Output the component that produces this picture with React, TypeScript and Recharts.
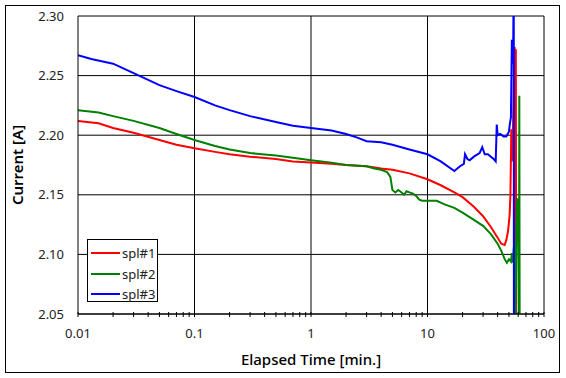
import { LineChart, Line, XAxis, YAxis, CartesianGrid, ReferenceLine, Legend } from 'recharts';

// spl#1
const t1 = [0.01, 0.015, 0.02, 0.03, 0.05, 0.07, 0.1, 0.15, 0.2, 0.3, 0.5, 0.7, 1, 1.5, 2, 3, 4, 5, 7, 10, 13, 17, 20, 25, 30, 35, 40, 43, 46, 47.5, 49.2, 50.7, 51.5, 52.4, 53, 54, 56, 56.5, 57.3, 57.8];
const v1 = [2.212, 2.21, 2.206, 2.202, 2.196, 2.192, 2.189, 2.186, 2.184, 2.182, 2.18, 2.178, 2.177, 2.176, 2.175, 2.174, 2.172, 2.171, 2.168, 2.163, 2.158, 2.152, 2.148, 2.14, 2.132, 2.123, 2.114, 2.109, 2.108, 2.112, 2.12, 2.133, 2.15, 2.205, 2.178, 2.2, 2.274, 2.0, 2.272, 2.0];

// spl#2
const t2 = [0.01, 0.015, 0.02, 0.03, 0.05, 0.07, 0.1, 0.15, 0.2, 0.3, 0.5, 0.7, 1, 1.5, 2, 3, 3.5, 4, 4.5, 4.8, 5, 5.3, 5.6, 6, 6.3, 6.6, 7, 7.5, 8, 8.5, 9, 10, 12, 14, 17, 20, 25, 30, 35, 40, 43, 46, 48, 50, 52, 53, 54, 55, 56, 57, 58, 59, 60, 61, 61.4, 61.8];
const v2 = [2.221, 2.219, 2.216, 2.212, 2.206, 2.201, 2.196, 2.191, 2.188, 2.185, 2.183, 2.181, 2.179, 2.177, 2.175, 2.174, 2.172, 2.171, 2.169, 2.165, 2.154, 2.152, 2.154, 2.152, 2.15, 2.153, 2.152, 2.151, 2.149, 2.146, 2.145, 2.145, 2.145, 2.142, 2.139, 2.135, 2.129, 2.124, 2.117, 2.109, 2.103, 2.096, 2.093, 2.096, 2.094, 2.101, 2.093, 2.105, 2.11, 2.04, 2.125, 2.147, 2.128, 2.04, 2.233, 2.04];

// spl#3
const t3 = [0.01, 0.013, 0.02, 0.03, 0.05, 0.07, 0.1, 0.15, 0.2, 0.3, 0.5, 0.7, 1, 1.5, 2, 2.5, 3, 4, 5, 7, 10, 13, 17, 19, 20.5, 21, 22, 23, 25, 28, 29.5, 31, 33, 35, 37, 38.5, 39.3, 40, 42, 45, 47.5, 50, 51, 52, 53, 54, 54.5, 55, 55.2];
const v3 = [2.267, 2.264, 2.26, 2.252, 2.242, 2.237, 2.232, 2.225, 2.221, 2.216, 2.211, 2.208, 2.206, 2.204, 2.201, 2.198, 2.195, 2.194, 2.192, 2.188, 2.184, 2.178, 2.17, 2.174, 2.176, 2.184, 2.18, 2.179, 2.182, 2.185, 2.19, 2.184, 2.184, 2.182, 2.18, 2.178, 2.209, 2.2, 2.201, 2.199, 2.199, 2.203, 2.21, 2.215, 2.28, 2.26, 2.283, 2.35, 2.0];

const xTicks = [
  0.01, 0.02, 0.03, 0.04, 0.05, 0.06, 0.07, 0.08, 0.09,
  0.1, 0.2, 0.3, 0.4, 0.5, 0.6, 0.7, 0.8, 0.9,
  1, 2, 3, 4, 5, 6, 7, 8, 9,
  10, 20, 30, 40, 50, 60, 70, 80, 90, 100,
];
const decades = [0.01, 0.1, 1, 10, 100];
const yTicks = [2.05, 2.1, 2.15, 2.2, 2.25, 2.3];

const series = [
  { name: 'spl#1', color: '#ff0000', data: t1.map((t, i) => ({ t, v: v1[i] })) },
  { name: 'spl#2', color: '#008000', data: t2.map((t, i) => ({ t, v: v2[i] })) },
  { name: 'spl#3', color: '#0000ff', data: t3.map((t, i) => ({ t, v: v3[i] })) },
];

const FONT = '"Noto Sans", sans-serif';

function XTick(props: any) {
  const { x, y, payload } = props;
  const major = decades.includes(payload.value);
  return (
    <g>
      <line x1={x} x2={x} y1={y - 2} y2={y + 3} stroke="#000" />
      {major && (
        <text x={x} y={y + 24} textAnchor="middle" fontSize={13} fill="#222" fontFamily={FONT}>
          {String(payload.value)}
        </text>
      )}
    </g>
  );
}

function LegendBox() {
  return (
    <div style={{ width: 69, height: 61, border: '1px solid #000', background: '#fff', position: 'relative', fontFamily: FONT, fontSize: 13, color: '#222' }}>
      {series.map((s, i) => (
        <div key={s.name} style={{ position: 'absolute', left: 3, top: 3 + i * 20.5, height: 20, display: 'flex', alignItems: 'center' }}>
          <svg width={29} height={4}>
            <line x1={0} x2={29} y1={2} y2={2} stroke={s.color} strokeWidth={2} />
          </svg>
          <span style={{ marginLeft: 2, lineHeight: '20px' }}>{s.name}</span>
        </div>
      ))}
    </div>
  );
}

export default function App() {
  return (
    <div style={{ position: 'absolute', left: 0, top: 0, width: 566, height: 378, background: '#fff' }}>
      <div style={{ position: 'absolute', left: 5, top: 5, width: 553, height: 366, border: '1px solid #000' }} />
      <LineChart width={566} height={378} margin={{ top: 16, right: 22, left: 18, bottom: 34 }}>
        <CartesianGrid vertical={false} stroke="#000" strokeWidth={1} />
        {decades.slice(1).map((d) => (
          <ReferenceLine key={d} x={d} stroke="#000" strokeWidth={1} />
        ))}
        <XAxis
          dataKey="t"
          type="number"
          scale="log"
          domain={[0.01, 100]}
          ticks={xTicks}
          allowDataOverflow
          interval={0}
          height={30}
          tickSize={0}
          tickMargin={0}
          tickLine={false}
          axisLine={{ stroke: '#000' }}
          tick={<XTick />}
          label={{ value: 'Elapsed Time [min.]', position: 'bottom', offset: 10, fontSize: 15, fill: '#000', fontFamily: FONT, fontWeight: 500 }}
        />
        <YAxis
          type="number"
          domain={[2.05, 2.3]}
          ticks={yTicks}
          allowDataOverflow
          width={60}
          tickSize={0}
          tickMargin={14}
          tickLine={false}
          axisLine={{ stroke: '#000' }}
          tickFormatter={(v: number) => v.toFixed(2)}
          tick={{ fontSize: 13, fill: '#222', fontFamily: FONT }}
          label={{ value: 'Current [A]', angle: -90, position: 'center', dx: -30, fontSize: 15, fill: '#000', fontFamily: FONT, fontWeight: 600 }}
        />
        {series.map((s) => (
          <Line
            key={s.name}
            data={s.data}
            dataKey="v"
            name={s.name}
            stroke={s.color}
            strokeWidth={2}
            dot={false}
            isAnimationActive={false}
          />
        ))}
        <Legend
          layout="vertical"
          align="center"
          verticalAlign="middle"
          content={<LegendBox />}
          wrapperStyle={{ left: 87, top: 239, width: 71, height: 63 }}
        />
      </LineChart>
    </div>
  );
}
